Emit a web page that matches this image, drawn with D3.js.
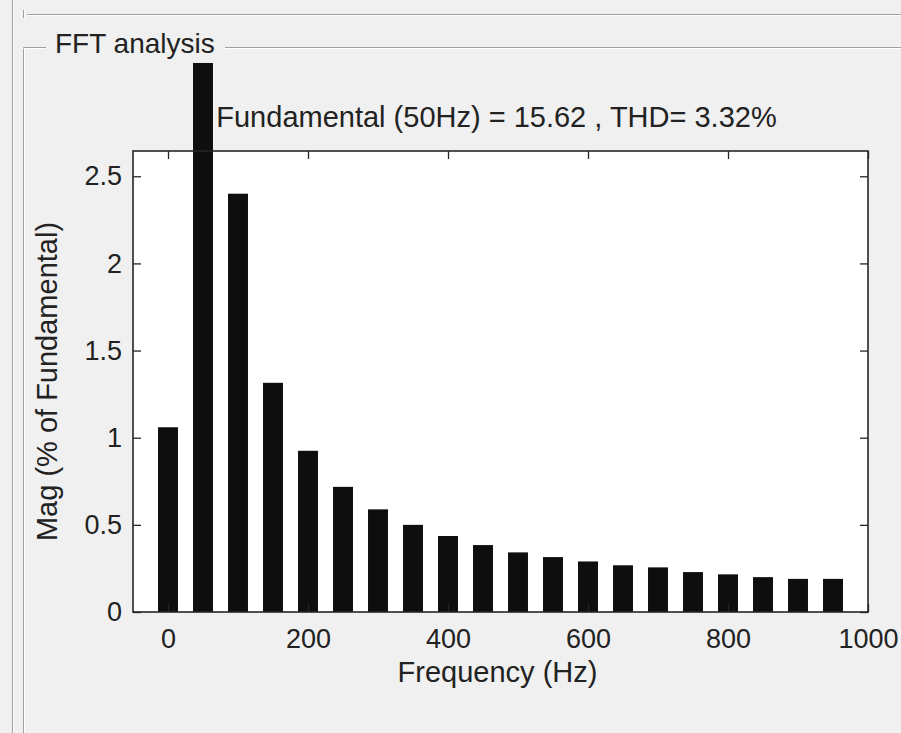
<!DOCTYPE html>
<html>
<head>
<meta charset="utf-8">
<script src="https://cdn.jsdelivr.net/npm/d3@7"></script>
<style>
  body { margin: 0; background: #f0f0f0; }
  svg { display: block; font-family: "Liberation Sans", Arial, sans-serif; }
  .tick text { fill: #222; }
</style>
</head>
<body>
<div id="chart"></div>
<script>
// harmonic frequencies (Hz)
var freqs = [0, 50, 100, 150, 200, 250, 300, 350, 400, 450,
             500, 550, 600, 650, 700, 750, 800, 850, 900, 950];
// magnitude, % of fundamental
var mags = [1.06, 3.15, 2.40, 1.315, 0.925, 0.718, 0.589, 0.50, 0.436, 0.384,
            0.342, 0.315, 0.29, 0.268, 0.256, 0.229, 0.216, 0.20, 0.19, 0.19];
var xTicks = [0, 200, 400, 600, 800, 1000];
var yTicks = [0, 0.5, 1, 1.5, 2, 2.5];
var titleText = "Fundamental (50Hz) = 15.62 , THD= 3.32%";
var xLabel = "Frequency (Hz)";
var yLabel = "Mag (% of Fundamental)";
var panelLabel = "FFT analysis";

var W = 901, H = 733;
var margin = {top: 151, right: 33, bottom: 121, left: 133},
    width = W - margin.left - margin.right,
    height = H - margin.top - margin.bottom;

var svg = d3.select("#chart").append("svg")
    .attr("width", W)
    .attr("height", H);

// window / panel etched frames
function etched(x1, y1, x2, y2) {
  svg.append("line").attr("x1", x1).attr("y1", y1).attr("x2", x2).attr("y2", y2)
    .attr("stroke", "#a0a0a0").attr("stroke-width", 1);
  var dx = (x1 === x2) ? 1 : 0, dy = (y1 === y2) ? 1 : 0;
  svg.append("line").attr("x1", x1 + dx).attr("y1", y1 + dy).attr("x2", x2 + dx).attr("y2", y2 + dy)
    .attr("stroke", "#ffffff").attr("stroke-width", 1);
}
etched(12.5, 0, 12.5, H);
etched(23.5, 10, 23.5, 18);
etched(27, 14.5, W, 14.5);
etched(23.5, 47.5, 23.5, H);
etched(23.5, 47.5, 46, 47.5);
etched(225, 47.5, W, 47.5);

svg.append("text")
    .attr("x", 55).attr("y", 53)
    .attr("font-size", 28)
    .attr("fill", "#222")
    .text(panelLabel);

var g = svg.append("g")
    .attr("transform", "translate(" + margin.left + "," + margin.top + ")");

var x = d3.scaleLinear().domain([-50, 1000]).range([0, width]);
var y = d3.scaleLinear().domain([0, 2.645]).range([height, 0]);

g.append("rect")
    .attr("width", width).attr("height", height)
    .attr("fill", "#ffffff");

// bars
var barW = x(28.5) - x(0);
g.selectAll(".bar")
    .data(freqs)
  .enter().append("rect")
    .attr("class", "bar")
    .attr("x", function(d) { return x(d) - barW / 2; })
    .attr("y", function(d, i) { return y(mags[i]); })
    .attr("width", barW)
    .attr("height", function(d, i) { return y(0) - y(mags[i]); })
    .attr("fill", "#0e0e0e");

// axes, ticks inward on all sides
function style(sel, fs) {
  sel.select(".domain").remove();
  sel.selectAll(".tick line").attr("stroke", "#262626").attr("stroke-width", 1.3);
  sel.selectAll(".tick text").attr("font-size", fs);
}

g.append("g")
    .attr("transform", "translate(0," + height + ")")
    .call(d3.axisBottom(x).tickValues(xTicks).tickSizeInner(-8).tickSizeOuter(0).tickPadding(17)
      .tickFormat(String))
    .call(style, 27);

g.append("g")
    .call(d3.axisTop(x).tickValues(xTicks).tickSizeInner(-8).tickSizeOuter(0).tickFormat(""))
    .call(style, 27);

g.append("g")
    .call(d3.axisLeft(y).tickValues(yTicks).tickSizeInner(-8).tickSizeOuter(0).tickPadding(11)
      .tickFormat(String))
    .call(style, 27);

g.append("g")
    .attr("transform", "translate(" + width + ",0)")
    .call(d3.axisRight(y).tickValues(yTicks).tickSizeInner(-8).tickSizeOuter(0).tickFormat(""))
    .call(style, 27);

// axes box
g.append("rect")
    .attr("width", width).attr("height", height)
    .attr("fill", "none")
    .attr("stroke", "#262626")
    .attr("stroke-width", 1.6);

// labels
g.append("text")
    .attr("x", width / 2 - 3).attr("y", height + 70)
    .attr("text-anchor", "middle")
    .attr("font-size", 29)
    .attr("fill", "#222")
    .text(xLabel);

g.append("text")
    .attr("transform", "translate(" + (-76) + "," + (height / 2) + ") rotate(-90)")
    .attr("text-anchor", "middle")
    .attr("font-size", 29)
    .attr("fill", "#222")
    .text(yLabel);

g.append("text")
    .attr("x", width / 2 - 4).attr("y", -24)
    .attr("text-anchor", "middle")
    .attr("font-size", 29)
    .attr("fill", "#222")
    .text(titleText);
</script>
</body>
</html>
